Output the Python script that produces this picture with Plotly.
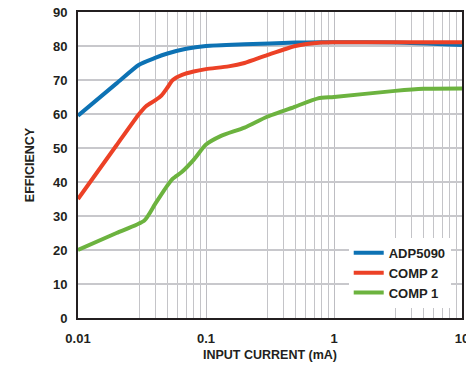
import plotly.graph_objects as go

adp_x = [0.01, 0.02, 0.03, 0.04, 0.05, 0.07, 0.1, 0.2, 0.5, 0.8, 1, 3, 10]
adp_y = [59.5, 69.0, 74.5, 76.5, 77.8, 79.2, 80.0, 80.5, 81.0, 81.1, 81.1, 81.0, 80.3]

c2_x = [0.01, 0.02, 0.03, 0.034, 0.04, 0.045, 0.05, 0.055, 0.065, 0.08, 0.1, 0.15, 0.2, 0.3, 0.5, 0.8, 1, 3, 10]
c2_y = [35.0, 50.8, 60.0, 62.3, 64.0, 65.5, 67.8, 70.0, 71.5, 72.5, 73.2, 74.0, 75.0, 77.3, 80.0, 81.0, 81.1, 81.1, 81.1]

c1_x = [0.01, 0.02, 0.033, 0.04, 0.05, 0.055, 0.065, 0.08, 0.1, 0.13, 0.2, 0.3, 0.5, 0.75, 1, 3, 5, 10]
c1_y = [20.0, 25.0, 28.7, 33.5, 39.0, 41.0, 43.0, 46.5, 51.0, 53.5, 56.0, 59.2, 62.2, 64.6, 65.0, 66.8, 67.4, 67.5]

x_ticks = [0.01, 0.1, 1, 10]
x_labels = ["0.01", "0.1", "1", "10"]
x_minor = [m * d for d in (0.01, 0.1, 1) for m in range(3, 10)]

fig = go.Figure()
for name, xs, ys, col in [("ADP5090", adp_x, adp_y, "#0d72b4"),
                          ("COMP 2", c2_x, c2_y, "#ec4126"),
                          ("COMP 1", c1_x, c1_y, "#6cb33f")]:
    fig.add_trace(go.Scatter(x=xs, y=ys, name=name, mode="lines",
                             line=dict(color=col, width=4, shape="spline", smoothing=0.6)))

font = "Liberation Sans, Arial, sans-serif"
fig.update_layout(
    width=466, height=365,
    margin=dict(l=78, r=4, t=12, b=47, autoexpand=False),
    paper_bgcolor="white", plot_bgcolor="white",
    font=dict(family=font, color="#231f20"),
    showlegend=True,
    legend=dict(x=0.705, y=0.262, xanchor="left", yanchor="top",
                bgcolor="white", font=dict(size=13, family=font, weight="bold"),
                tracegroupgap=0, itemwidth=30),
    xaxis=dict(type="log", range=[-2, 1], automargin=False,
               tickvals=x_ticks, ticktext=x_labels,
               tickfont=dict(size=13, weight="bold"),
               ticklabeloverflow="allow", ticklabelstandoff=7,
               showgrid=True, gridcolor="#bdbdc2", gridwidth=1,
               minor=dict(tickvals=x_minor, showgrid=True, gridcolor="#c4c4c8", gridwidth=1, ticks=""),
               showline=True, linecolor="#231f20", linewidth=2, mirror=True,
               ticks="", ticklen=0,
               title=dict(text="INPUT CURRENT (mA)", font=dict(size=12.5, weight="bold"), standoff=6),
               zeroline=False),
    yaxis=dict(range=[0, 90], dtick=10, automargin=False,
               tickfont=dict(size=13, weight="bold"),
               ticklabelstandoff=6,
               showgrid=True, gridcolor="#c8c8cc", gridwidth=1.5,
               showline=True, linecolor="#231f20", linewidth=2, mirror=True,
               ticks="", ticklen=0,
               title=dict(text="EFFICIENCY", font=dict(size=12.5, weight="bold"), standoff=16),
               zeroline=False),
)
fig.write_html("out.html")
